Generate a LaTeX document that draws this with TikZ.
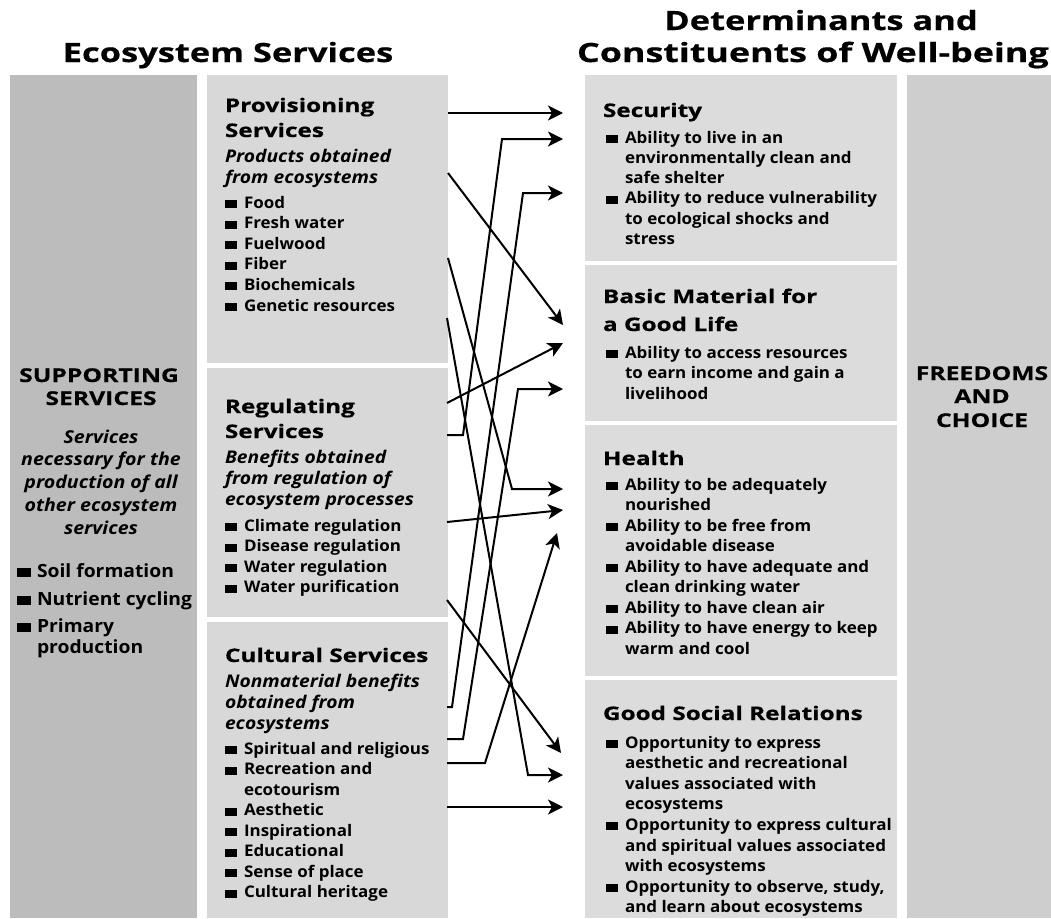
\documentclass[tikz,border=0pt]{standalone}
\usepackage{fontspec}
\setmainfont{Open Sans}
\newfontfamily\heavy{Open Sans}[FakeStretch=1.3,FakeBold=0.6]
\newfontfamily\itemf{Open Sans}[FakeStretch=1.06]
\newfontfamily\italf{Open Sans}[FakeStretch=1.1]
\usetikzlibrary{arrows.meta}
\definecolor{supg}{RGB}{188,188,188}
\definecolor{midg}{RGB}{216,216,216}
\definecolor{rgtg}{RGB}{220,220,220}
\definecolor{frdg}{RGB}{206,206,206}
\newcommand\bul{\makebox[19pt][l]{\rule{12pt}{8pt}}}
\newcommand\cnt{\hspace*{19pt}}
\newcommand\bulS{\makebox[20pt][l]{\rule{14pt}{9pt}}}
\newcommand\cntS{\hspace*{20pt}}
\tikzset{
  every node/.style={inner sep=0pt, outer sep=0pt},
  item/.style={anchor=base west, font=\itemf\bfseries\fontsize{16}{18}\selectfont},
  ital/.style={anchor=base west, font=\italf\bfseries\itshape\fontsize{17.5}{18}\selectfont},
  head/.style={anchor=base west, font=\heavy\bfseries\fontsize{18.7}{24}\selectfont},
  title/.style={anchor=base, font=\heavy\bfseries\fontsize{26.5}{32}\selectfont},
  suphead/.style={anchor=base, font=\heavy\bfseries\fontsize{19}{24}\selectfont},
  supital/.style={anchor=base, font=\italf\bfseries\itshape\fontsize{17.8}{20}\selectfont},
  supitem/.style={anchor=base west, font=\itemf\bfseries\fontsize{18.2}{20}\selectfont},
  conn/.style={line width=2pt, line join=miter, -{Stealth[length=15pt,width=15pt,inset=4pt]}},
}
\begin{document}
\begin{tikzpicture}[x=1pt,y=-1pt]
\clip (0,0) rectangle (1051,918);
\fill[white] (0,0) rectangle (1051,918);
% panels
\fill[supg] (10,75) rectangle (197,918);
\fill[midg] (207,75) rectangle (448,363);
\fill[midg] (207,368) rectangle (448,617);
\fill[midg] (207,622) rectangle (448,918);
\fill[rgtg] (585,75) rectangle (897,261);
\fill[rgtg] (585,265) rectangle (897,421);
\fill[rgtg] (585,425) rectangle (897,676);
\fill[rgtg] (585,680) rectangle (897,918);
\fill[frdg] (907,75) rectangle (1051,918);
% titles
\node[title] (tES) at (228,62) {Ecosystem Services};
\node[title] (tD1) at (821,30) {Determinants and};
\node[title, anchor=base west] (tD2) at (577,62) {\scalebox{1.04}[1]{Constituents of Well-being}};
% supporting
\node[suphead] (sup1) at (99,382) {SUPPORTING};
\node[suphead] (sup2) at (101,405) {SERVICES};
\foreach \t [count=\i] in {Services,necessary for the,production of all,other ecosystem,services}
  \node[supital] (supi-\i) at (101,443+22.8*\i-22.8) {\t};
\node[supitem] (supb-1) at (17,577) {\bulS Soil formation};
\node[supitem] (supb-2) at (17,605) {\bulS Nutrient cycling};
\node[supitem] (supb-3) at (17,632) {\bulS Primary};
\node[supitem] (supb-4) at (17,653) {\cntS production};
% provisioning
\node[head] (prh1) at (225,112) {Provisioning};
\node[head] (prh2) at (225,137) {Services};
\node[ital] (pri1) at (225,162) {Products obtained};
\node[ital] (pri2) at (225,183) {from ecosystems};
\foreach \t [count=\i] in {Food,Fresh water,Fuelwood,Fiber,Biochemicals,Genetic resources}
  \node[item] (prb-\i) at (225,208+20.6*\i-20.6) {\bul\t};
% regulating
\node[head] (rgh1) at (225,413) {Regulating};
\node[head] (rgh2) at (225,438) {Services};
\foreach \t [count=\i] in {Benefits obtained,from regulation of,ecosystem processes}
  \node[ital] (rgi-\i) at (225,463+21*\i-21) {\t};
\foreach \t [count=\i] in {Climate regulation,Disease regulation,Water regulation,Water purification}
  \node[item] (rgb-\i) at (225,531+20.6*\i-20.6) {\bul\t};
% cultural
\node[head] (cuh1) at (225,662) {Cultural Services};
\foreach \t [count=\i] in {Nonmaterial benefits,obtained from,ecosystems}
  \node[ital] (cui-\i) at (225,687+21*\i-21) {\t};
\foreach \t [count=\i] in {{\bul Spiritual and religious},{\bul Recreation and},{\cnt ecotourism},{\bul Aesthetic},{\bul Inspirational},{\bul Educational},{\bul Sense of place},{\bul Cultural heritage}}
  \node[item] (cub-\i) at (225,754+20.5*\i-20.5) {\t};
% security
\node[head] (seh) at (603,117) {Security};
\foreach \t [count=\i] in {{\bul Ability to live in an},{\cnt environmentally clean and},{\cnt safe shelter},{\bul Ability to reduce vulnerability},{\cnt to ecological shocks and},{\cnt stress}}
  \node[item] (seb-\i) at (606,143+20.3*\i-20.3) {\t};
% basic material
\node[head] (bah1) at (603,303) {Basic Material for};
\node[head] (bah2) at (603,331) {a Good Life};
\foreach \t [count=\i] in {{\bul Ability to access resources},{\cnt to earn income and gain a},{\cnt livelihood}}
  \node[item] (bab-\i) at (606,358+20.5*\i-20.5) {\t};
% health
\node[head] (heh) at (603,465) {Health};
\foreach \t [count=\i] in {{\bul Ability to be adequately},{\cnt nourished},{\bul Ability to be free from},{\cnt avoidable disease},{\bul Ability to have adequate and},{\cnt clean drinking water},{\bul Ability to have clean air},{\bul Ability to have energy to keep},{\cnt warm and cool}}
  \node[item] (heb-\i) at (606,490+20.5*\i-20.5) {\t};
% good social relations
\node[head] (goh) at (603,720) {Good Social Relations};
\foreach \t [count=\i] in {{\bul Opportunity to express},{\cnt aesthetic and recreational},{\cnt values associated with},{\cnt ecosystems},{\bul Opportunity to express cultural},{\cnt and spiritual values associated},{\cnt with ecosystems},{\bul Opportunity to observe, study,},{\cnt and learn about ecosystems}}
  \node[item] (gob-\i) at (606,748+20.6*\i-20.6) {\t};
% freedoms
\node[suphead] (fr1) at (982,380) {FREEDOMS};
\node[suphead] (fr2) at (982,403) {AND};
\node[suphead] (fr3) at (982,427) {CHOICE};
% connector points
\coordinate (s1) at (448,113);  \coordinate (t1) at (563,113);
\coordinate (s2) at (447,435);  \coordinate (c2a) at (463,435); \coordinate (c2b) at (502,139); \coordinate (t2) at (563,139);
\coordinate (s3) at (447,707);  \coordinate (c3a) at (452,707); \coordinate (c3b) at (523,193); \coordinate (t3) at (563,193);
\coordinate (s4) at (448,173);  \coordinate (t4) at (563,325);
\coordinate (s5) at (447,403);  \coordinate (t5) at (563,343);
\coordinate (s7) at (447,739);  \coordinate (c7a) at (463,739); \coordinate (c7b) at (518,389); \coordinate (t7) at (563,389);
\coordinate (s8) at (448,258);  \coordinate (c8) at (512,489); \coordinate (t8) at (563,489);
\coordinate (s13) at (447,522); \coordinate (t13) at (563,510);
\coordinate (s9) at (447,763);  \coordinate (c9) at (485,763); \coordinate (t9) at (557,533);
\coordinate (s10) at (447,600); \coordinate (t10) at (561,753);
\coordinate (s11) at (447,318); \coordinate (c11) at (528,775); \coordinate (t11) at (563,775);
\coordinate (s12) at (447,807); \coordinate (t12) at (563,807);
% connectors
\draw[conn] (s1) -- (t1);
\draw[conn] (s2) -- (c2a) -- (c2b) -- (t2);
\draw[conn] (s3) -- (c3a) -- (c3b) -- (t3);
\draw[conn] (s4) -- (t4);
\draw[conn] (s5) -- (t5);
\draw[conn] (s7) -- (c7a) -- (c7b) -- (t7);
\draw[conn] (s8) -- (c8) -- (t8);
\draw[conn] (s13) -- (t13);
\draw[conn] (s9) -- (c9) -- (t9);
\draw[conn] (s10) -- (t10);
\draw[conn] (s11) -- (c11) -- (t11);
\draw[conn] (s12) -- (t12);
\end{tikzpicture}
\end{document}
